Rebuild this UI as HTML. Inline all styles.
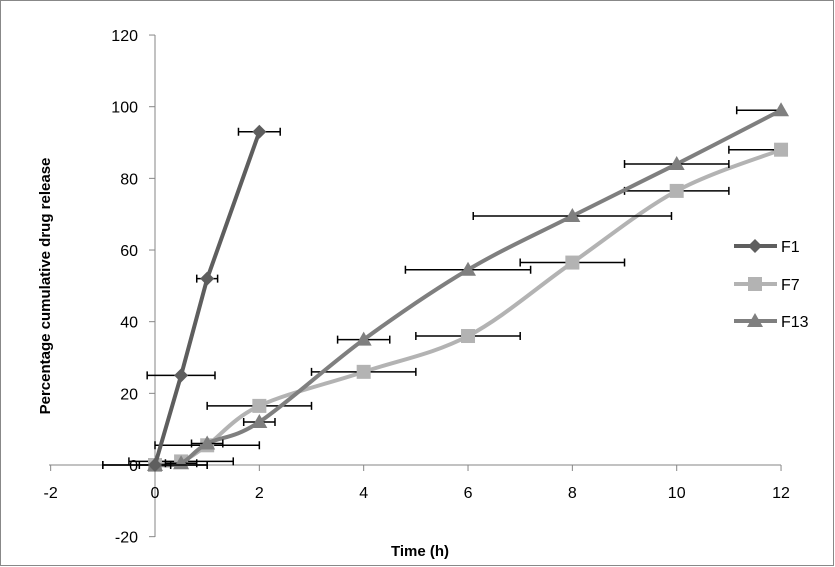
<!DOCTYPE html>
<html><head><meta charset="utf-8"><style>
body{margin:0;background:#fff;}
svg{display:block;font-family:"Liberation Sans",sans-serif;}
</style></head><body>
<svg id="c" width="835" height="567"></svg>
<script>
const xTicks=[-2,0,2,4,6,8,10,12];
const yTicks=[-20,0,20,40,60,80,100,120];
const f1X=[0,0.5,1,2];
const f1Y=[0,25,52,93];
const f1E=[1,0.65,0.2,0.4];
const f7X=[0,0.5,1,2,4,6,8,10,12];
const f7Y=[0,1,5.5,16.5,26,36,56.5,76.5,88];
const f7E=[1,1,1,1,1,1,1,1,1];
const f13X=[0,0.5,1,2,4,6,8,10,12];
const f13Y=[0,0.5,6,12,35,54.5,69.5,84,99];
const f13E=[0.3,0.3,0.3,0.3,0.5,1.2,1.9,1,0.85];
const NS="http://www.w3.org/2000/svg";
const svg=document.getElementById('c');
const sx=v=>155+(v)*52.17;
const sy=v=>465-v*3.583;
function el(t,a,p){const e=document.createElementNS(NS,t);for(const k in a)e.setAttribute(k,a[k]);(p||svg).appendChild(e);return e;}
const border=el('rect',{x:0.5,y:0.5,width:833,height:565,fill:'none',stroke:'#888','stroke-width':1});


// axes
const ya=el('line',{x1:155,y1:35,x2:155,y2:537,stroke:'#868686'});


const xa=el('line',{x1:49,y1:465,x2:781,y2:465,stroke:'#868686'});


yTicks.forEach(v=>{
 el('line',{x1:149,y1:sy(v),x2:155,y2:sy(v),stroke:'#868686'});
 const t=el('text',{x:138,y:sy(v)+6,'text-anchor':'end','font-size':16,fill:'#000'});t.textContent=v;
 
 
});
xTicks.forEach(v=>{
 el('line',{x1:sx(v),y1:465,x2:sx(v),y2:471,stroke:'#868686'});
 const t=el('text',{x:sx(v),y:498,'text-anchor':'middle','font-size':16,fill:'#000'});t.textContent=v;
 
 
});
const xt=el('text',{x:420,y:556,'text-anchor':'middle','font-size':15,'font-weight':'bold'});xt.textContent='Time (h)';


const yt=el('text',{x:0,y:0,'text-anchor':'middle','font-size':15,'font-weight':'bold',transform:'translate(50,286) rotate(-90)'});yt.textContent='Percentage cumulative drug release';


function smooth(pts){let d='M'+pts[0][0]+','+pts[0][1];for(let i=0;i<pts.length-1;i++){const p0=pts[Math.max(i-1,0)],p1=pts[i],p2=pts[i+1],p3=pts[Math.min(i+2,pts.length-1)];const c1=[p1[0]+(p2[0]-p0[0])/6,p1[1]+(p2[1]-p0[1])/6],c2=[p2[0]-(p3[0]-p1[0])/6,p2[1]-(p3[1]-p1[1])/6];d+=' C'+c1+' '+c2+' '+p2;}return d;}
function marker(type,x,y,col,g){
 if(type==='d')return el('polygon',{points:`${x},${y-7} ${x+7},${y} ${x},${y+7} ${x-7},${y}`,fill:col},g);
 if(type==='s')return el('rect',{x:x-7,y:y-7,width:14,height:14,fill:col},g);
 return el('polygon',{points:`${x},${y-8} ${x+8},${y+6} ${x-8},${y+6}`,fill:col},g);
}
function series(name,X,Y,E,col,type,curve){
 const g=el('g',{});
 
 
 const pts=X.map((x,i)=>[sx(x),sy(Y[i])]);
 const d=curve?smooth(pts):'M'+pts.map(p=>p.join(',')).join(' L');
 const p=el('path',{d:d,fill:'none',stroke:col,'stroke-width':4},g);
 
 
 X.forEach((x,i)=>{
  const y=sy(Y[i]);const a=sx(Math.max(x-E[i],-2)),b=sx(Math.min(x+E[i],12));
  const eb=el('path',{d:`M${a},${y} L${b},${y} M${a},${y-4} L${a},${y+4} M${b},${y-4} L${b},${y+4}`,stroke:'#000','stroke-width':1.5,fill:'none'},g);
  
  
 });
 X.forEach((x,i)=>{
  const m=marker(type,sx(x),sy(Y[i]),col,g);
  
  
 });
}
series('f7',f7X,f7Y,f7E,'#b3b3b3','s',true);
series('f13',f13X,f13Y,f13E,'#7f7f7f','t',true);
series('f1',f1X,f1Y,f1E,'#5e5e5e','d',false);
// legend
const leg=[['F1','#5e5e5e','d',246],['F7','#b3b3b3','s',284],['F13','#7f7f7f','t',321]];
leg.forEach(l=>{
 const g=el('g',{});
 
 
 el('line',{x1:734,y1:l[3],x2:777,y2:l[3],stroke:l[1],'stroke-width':4},g);
 marker(l[2],755,l[3],l[1],g);
 const t=el('text',{x:781,y:l[3]+6,'font-size':16},g);t.textContent=l[0];
});
</script>
</body></html>
